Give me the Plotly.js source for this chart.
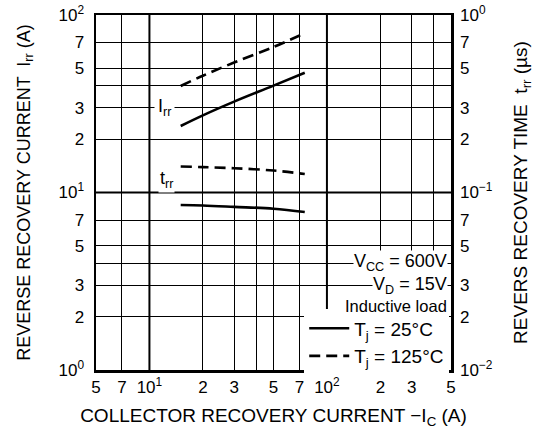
<!DOCTYPE html>
<html><head><meta charset="utf-8">
<script src="https://cdn.plot.ly/plotly-3.0.1.min.js"></script>
<style>body{margin:0;padding:0;background:#fff}#chart{width:541px;height:443px}</style>
</head><body><div id="chart"></div>
<script>
// Data
const icIrr = [15, 20, 30, 50, 75];                 // collector recovery current (A)
const irr25 = [23.7, 27.2, 32.5, 40.0, 47.3];       // Irr (A), Tj = 25°C
const irr125 = [39.8, 45.5, 54.0, 66.0, 79.0];      // Irr (A), Tj = 125°C
const icTrr = [15, 20, 30, 50, 75];
const trr25 = [0.085, 0.0845, 0.083, 0.081, 0.0776]; // trr (µs), Tj = 25°C
const trr125 = [0.140, 0.139, 0.137, 0.133, 0.127];  // trr (µs), Tj = 125°C

const xTickVals = [5, 7, 10, 20, 30, 40, 50, 70, 100, 200, 300, 400, 500];
const xTickText = ['5', '7', '10<sup>1</sup>', '2', '3', '', '5', '7', '10<sup>2</sup>', '2', '3', '', '5'];
const yTickVals = [1, 2, 3, 4, 5, 7, 10, 20, 30, 40, 50, 70, 100];
const yTickText = ['10<sup>0</sup>', '2', '3', '', '5', '7', '10<sup>1</sup>', '2', '3', '', '5', '7', '10<sup>2</sup>'];
const y2TickVals = [0.01, 0.02, 0.03, 0.05, 0.07, 0.1, 0.2, 0.3, 0.5, 0.7, 1];
const y2TickText = ['10<sup>−2</sup>', '2', '3', '5', '7', '10<sup>−1</sup>', '2', '3', '5', '7', '10<sup>0</sup>'];
const decadesX = [10, 100];
const decadesY = [10];

const FONT = 'Liberation Sans, Arial, sans-serif';
const lw = 2.6;

const traces = [
  {x: icIrr, y: irr25, mode: 'lines', line: {color: '#000', width: lw, shape: 'spline'}, name: 'T<sub>j</sub> = 25°C', legendgroup: 'a', showlegend: true},
  {x: icIrr, y: irr125, mode: 'lines', line: {color: '#000', width: lw, dash: '11px,6px', shape: 'spline'}, name: 'T<sub>j</sub> = 125°C', legendgroup: 'b', showlegend: true},
  {x: icTrr, y: trr25, yaxis: 'y2', mode: 'lines', line: {color: '#000', width: lw, shape: 'spline'}, legendgroup: 'a', showlegend: false},
  {x: icTrr, y: trr125, yaxis: 'y2', mode: 'lines', line: {color: '#000', width: lw, dash: '11px,6px', shape: 'spline'}, legendgroup: 'b', showlegend: false}
];

const shapes = [];
decadesX.forEach(v => shapes.push({type: 'line', xref: 'x', yref: 'paper', x0: v, x1: v, y0: 0, y1: 1, line: {color: '#000', width: 2}, layer: 'below'}));
decadesY.forEach(v => shapes.push({type: 'line', xref: 'paper', yref: 'y', x0: 0, x1: 1, y0: v, y1: v, line: {color: '#000', width: 2}, layer: 'below'}));

const annFont = {family: FONT, size: 18, color: '#000'};
const layout = {
  width: 541, height: 443,
  margin: {l: 96, r: 90, t: 15, b: 73},
  paper_bgcolor: '#fff', plot_bgcolor: '#fff',
  font: {family: FONT, size: 17, color: '#000'},
  xaxis: {
    type: 'log', range: [Math.log10(5), Math.log10(500)],
    tickvals: xTickVals, ticktext: xTickText, ticks: '',
    showgrid: true, gridcolor: '#000', gridwidth: 1,
    showline: true, linecolor: '#000', linewidth: 2.5, mirror: true,
    zeroline: false, tickfont: {family: FONT, size: 17},
    title: {text: 'COLLECTOR RECOVERY CURRENT −I<sub>C</sub> (A)', font: {family: FONT, size: 19}, standoff: 13}
  },
  yaxis: {
    type: 'log', range: [0, 2],
    tickvals: yTickVals, ticktext: yTickText, ticks: '', ticklabelstandoff: 6,
    showgrid: true, gridcolor: '#000', gridwidth: 1,
    showline: true, linecolor: '#000', linewidth: 2.5, mirror: true,
    zeroline: false, tickfont: {family: FONT, size: 17},
    title: {text: 'REVERSE RECOVERY CURRENT  I<sub>rr</sub> (A)', font: {family: FONT, size: 18}, standoff: 24}
  },
  yaxis2: {
    type: 'log', range: [-2, 0], overlaying: 'y', side: 'right',
    tickvals: y2TickVals, ticktext: y2TickText, ticks: '', ticklabelstandoff: 8,
    showgrid: false, zeroline: false, showline: false,
    tickfont: {family: FONT, size: 17},
    title: {text: 'REVERS RECOVERY TIME  t<sub>rr</sub> (µs)', font: {family: FONT, size: 19}, standoff: 21}
  },
  showlegend: true,
  legend: {x: 0.995, xanchor: 'right', y: -0.015, yanchor: 'bottom', bgcolor: '#fff', borderwidth: 0,
           font: {family: FONT, size: 19}, tracegroupgap: 0, itemwidth: 40},
  shapes: shapes,
  annotations: [
    {xref: 'paper', yref: 'paper', x: 0.992, y: 0.303, xanchor: 'right', yanchor: 'middle', text: 'V<sub>CC</sub> = 600V', showarrow: false, bgcolor: '#fff', font: annFont, borderpad: 0},
    {xref: 'paper', yref: 'paper', x: 0.992, y: 0.238, xanchor: 'right', yanchor: 'middle', text: 'V<sub>D</sub> = 15V', showarrow: false, bgcolor: '#fff', font: annFont, borderpad: 0},
    {xref: 'paper', yref: 'paper', x: 0.992, y: 0.18, xanchor: 'right', yanchor: 'middle', text: 'Inductive load', showarrow: false, bgcolor: '#fff', font: {family: FONT, size: 16.5, color: '#000'}, borderpad: 0},
    {xref: 'x', yref: 'y', x: Math.log10(12.2), y: Math.log10(30), text: 'I<sub>rr</sub>', showarrow: false, bgcolor: '#fff', font: annFont, borderpad: 3},
    {xref: 'x', yref: 'y', x: Math.log10(12.4), y: Math.log10(11.8), text: 't<sub>rr</sub>', showarrow: false, bgcolor: '#fff', font: annFont, borderpad: 1}
  ]
};
Plotly.newPlot('chart', traces, layout, {displayModeBar: false, staticPlot: true});
</script></body></html>
